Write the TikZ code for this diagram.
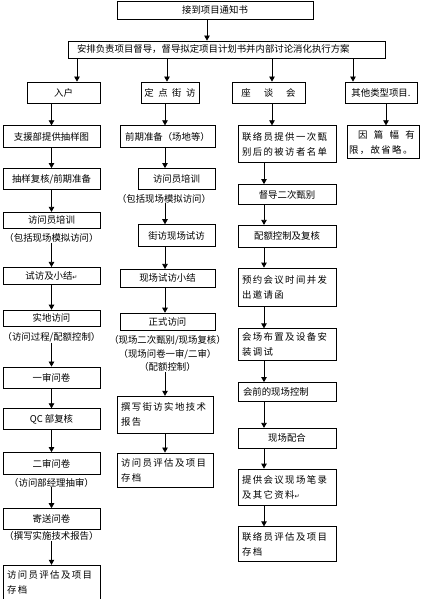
\documentclass[tikz,border=0pt]{standalone}
\usepackage{fontspec}
\setmainfont{Noto Sans CJK SC}
\newfontfamily\spreadfont[LetterSpace=15]{Noto Sans CJK SC}
\newfontfamily\markfont{DejaVu Sans}
\newcommand\retmark{{\markfont\fontsize{6pt}{6pt}\selectfont ↵}}
\usetikzlibrary{arrows.meta,positioning}

\begin{document}
\begin{tikzpicture}[
  x=1pt, y=1pt,
  font=\fontsize{9.4pt}{15pt}\selectfont,
  box/.style={draw=black, line width=0.75pt, inner sep=2pt, align=center},
  boxA/.style={box, minimum width=97pt},
  boxB/.style={box, minimum width=95pt},
  boxBn/.style={box, minimum width=77pt},
  boxC/.style={box, minimum width=98pt},
  twoline/.style={box, align=left, inner xsep=4pt, text width=#1, font=\spreadfont\fontsize{9.4pt}{15pt}\selectfont},
  note/.style={inner sep=0pt, align=center},
  arr/.style={-{Triangle[length=5pt, width=5.5pt]}, line width=0.75pt}]
  \useasboundingbox (0,0) rectangle (420,-599);
  % top of the flow
  \node[box, minimum width=196pt, minimum height=18pt] (notice) at (215,-10) {接到项目通知书};
  \node[box, minimum height=17pt, text width=299pt, inner xsep=9pt, align=left] (plan) at (226.5,-49.5) {安排负责项目督导，督导拟定项目计划书并内部讨论消化执行方案};
  \coordinate (drop) at (207,0);
  \coordinate (pA) at (77,0);
  \coordinate (pB) at (167,0);
  \coordinate (pC) at (272,0);
  \coordinate (pD) at (353,0);
  \coordinate (kB) at (165,0);
  \coordinate (kC) at (264,0);
  \coordinate (kD) at (386,0);
  % column heads
  \node[box, minimum width=73pt, minimum height=21pt] (hA) at (63.5,-92.5) {入户};
  \node[box, minimum width=58pt, minimum height=21pt] (hB) at (170,-92.5) {定\hspace{4.5pt}点\hspace{4.5pt}街\hspace{4.5pt}访};
  \node[box, minimum width=73pt, minimum height=21pt] (hC) at (268.5,-92.5) {座\hspace{13pt}谈\hspace{13pt}会};
  \node[box, minimum width=72pt, minimum height=21pt] (hD) at (381,-92.5) {其他类型项目.};
  % in-home
  \node[boxA, minimum height=22pt, below=22pt of hA, xshift=-12pt] (a1) {支援部提供抽样图};
  \node[boxA, minimum height=21pt, below=20pt of a1] (a2) {抽样复核/前期准备};
  \node[boxA, minimum height=16pt, below=22pt of a2] (a3) {访问员培训};
  \node[note, below=5pt of a3] (a3n) {（包括现场模拟访问）};
  \node[boxA, minimum height=17pt, below=24pt of a3n] (a4) {试访及小结\retmark};
  \node[boxA, minimum height=16pt, below=25pt of a4] (a5) {实地访问};
  \node[note, below=6pt of a5] (a5n) {（访问过程/配额控制）};
  \node[boxA, minimum height=21pt, below=24pt of a5n] (a6) {一审问卷};
  \node[boxA, minimum height=21pt, below=20pt of a6] (a7) {QC 部复核};
  \node[boxA, minimum height=22pt, below=22pt of a7] (a8) {二审问卷};
  \node[note, below=3pt of a8] (a8n) {（访问部经理抽审）};
  \node[boxA, minimum height=21pt, below=21pt of a8n] (a9) {寄送问卷};
  \node[note, below=1.5pt of a9] (a9n) {（撰写实施技术报告）};
  \node[twoline=89pt, minimum height=35pt, below=24pt of a9n] (a10) {访问员评估及项目\\存档};
  % street interview
  \node[boxB, minimum height=22pt, below=22pt of hB, xshift=-2.5pt] (b1) {前期准备（场地等）};
  \node[boxBn, minimum height=21pt, below=20pt of b1, xshift=9pt] (b2) {访问员培训};
  \node[note, below=4pt of b2, xshift=-12.5pt] (b2n) {（包括现场模拟访问）};
  \node[boxBn, minimum height=22pt, below=21pt of b2n, xshift=12.5pt] (b3) {街访现场试访};
  \node[boxB, minimum height=18pt, below=22pt of b3, xshift=-9pt] (b4) {现场试访小结};
  \node[boxB, minimum height=17pt, below=25pt of b4] (b5) {正式访问};
  \node[note, below=5pt of b5, font=\fontsize{9.4pt}{13.5pt}\selectfont] (b5n) {（现场二次甄别/现场复核）\\（现场问卷一审/二审）\\（配额控制）};
  \node[twoline=88pt, minimum height=37pt, below=24pt of b5n, xshift=-2.5pt] (b6) {撰写街访实地技术\\报告};
  \node[twoline=88pt, minimum height=34pt, below=19pt of b6] (b7) {访问员评估及项目\\存档};
  % group discussion
  \node[twoline=90pt, minimum height=37pt, below=22pt of hC, xshift=18.5pt] (c1) {联络员提供一次甄\\别后的被访者名单};
  \node[boxC, minimum height=20pt, below=21pt of c1] (c2) {督导二次甄别};
  \node[boxC, minimum height=22pt, below=20pt of c2] (c3) {配额控制及复核};
  \node[twoline=90pt, minimum height=38pt, below=20pt of c3] (c4) {预约会议时间并发\\出邀请函};
  \node[twoline=90pt, minimum height=32pt, below=22pt of c4] (c5) {会场布置及设备安\\装调试};
  \node[boxC, minimum height=19pt, text width=88pt, inner xsep=5pt, align=left, below=21pt of c5] (c6) {会前的现场控制};
  \node[boxC, minimum height=20pt, below=26pt of c6] (c7) {现场配合};
  \node[twoline=90pt, minimum height=36pt, below=20pt of c7] (c8) {提供会议现场笔录\\及其它资料\retmark};
  \node[twoline=90pt, minimum height=35pt, below=21pt of c8] (c9) {联络员评估及项目\\存档};
  % other types
  \node[twoline=68pt, inner xsep=2pt, minimum height=33pt, below=22pt of hD, xshift=2pt] (d1) {\hspace*{9pt}因\hspace{6.4pt}篇\hspace{6.4pt}幅\hspace{6.4pt}有\\限，故省略。};
  % arrows
  \draw[arr] (notice.south -| drop) -- (plan.north -| drop);
  \draw[arr] (plan.south -| pA) -- (hA.north -| pA);
  \draw[arr] (plan.south -| pB) -- (hB.north -| pB);
  \draw[arr] (plan.south -| pC) -- (hC.north -| pC);
  \draw[arr] (plan.south -| pD) -- (hD.north -| pD);
  \draw[arr] (hA.south -| a1) -- (a1);
  \draw[arr] (a1) -- (a2);
  \draw[arr] (a2) -- (a3);
  \draw[arr] (a3n) -- (a4);
  \draw[arr] (a4) -- (a5);
  \draw[arr] (a5n) -- (a6);
  \draw[arr] (a6) -- (a7);
  \draw[arr] (a7) -- (a8);
  \draw[arr] (a8n) -- (a9);
  \draw[arr] (a9n) -- (a10);
  \draw[arr] (hB.south -| kB) -- (b1.north -| kB);
  \draw[arr] (b1.south -| kB) -- (b2.north -| kB);
  \draw[arr] (b2n.south -| kB) -- (b3.north -| kB);
  \draw[arr] (b3.south -| kB) -- (b4.north -| kB);
  \draw[arr] (b4.south -| kB) -- (b5.north -| kB);
  \draw[arr] (b5n.south -| kB) -- (b6.north -| kB);
  \draw[arr] (b6.south -| kB) -- (b7.north -| kB);
  \draw[arr] (hC.south -| pC) -- (c1.north -| pC);
  \draw[arr] (c1.south -| kC) -- (c2.north -| kC);
  \draw[arr] (c2.south -| kC) -- (c3.north -| kC);
  \draw[arr] (c3.south -| kC) -- (c4.north -| kC);
  \draw[arr] (c4.south -| kC) -- (c5.north -| kC);
  \draw[arr] (c5.south -| kC) -- (c6.north -| kC);
  \draw[arr] (c6.south -| kC) -- (c7.north -| kC);
  \draw[arr] (c7.south -| kC) -- (c8.north -| kC);
  \draw[arr] (c8.south -| kC) -- (c9.north -| kC);
  \draw[arr] (hD.south -| kD) -- (d1.north -| kD);
\end{tikzpicture}
\end{document}
